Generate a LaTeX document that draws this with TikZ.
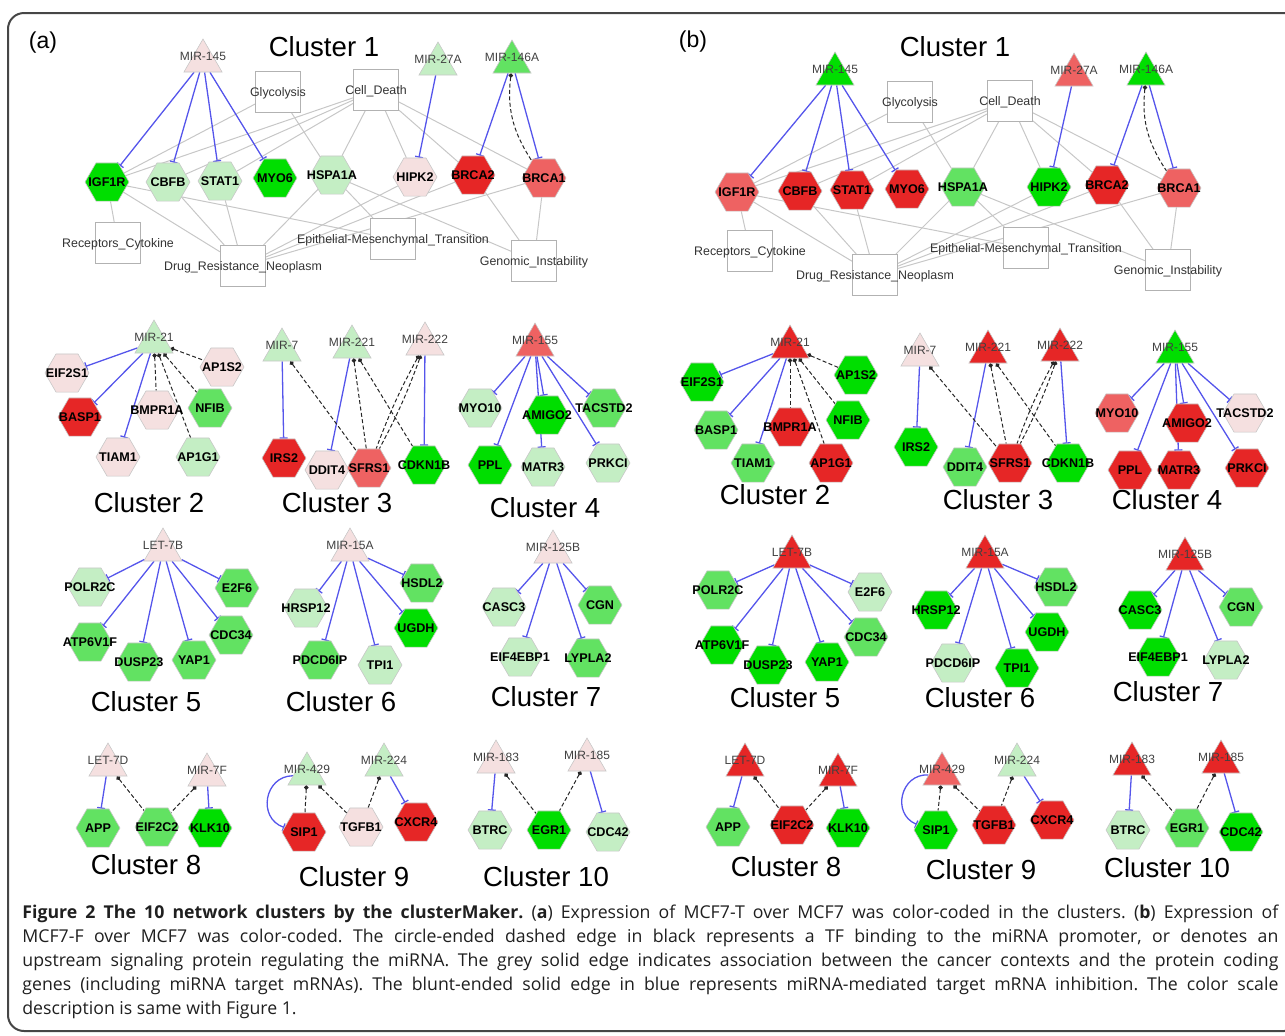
\documentclass[tikz,border=0pt]{standalone}
\usepackage{fontspec}
\setmainfont{Liberation Sans}
\newfontfamily\capfont{Open Sans}
\usetikzlibrary{shapes.geometric, arrows.meta}
\definecolor{GreenHi}{RGB}{0,222,0}
\definecolor{GreenMid}{RGB}{98,226,98}
\definecolor{GreenLo}{RGB}{196,238,196}
\definecolor{RedLo}{RGB}{245,224,224}
\definecolor{RedMid}{RGB}{238,98,98}
\definecolor{RedHi}{RGB}{230,38,38}
\definecolor{EdgeBlue}{RGB}{85,85,235}
\definecolor{Frame}{RGB}{70,70,70}
\newsavebox\nodetext
\tikzset{zw/.style={execute at begin node={\setbox\nodetext\hbox\bgroup}, execute at end node={\egroup\makebox[0pt]{\raisebox{#1}[0pt][0pt]{\usebox\nodetext}}}}, zw/.default=-2.2pt}
\pgfdeclarelayer{background}
\pgfsetlayers{background,main}

\begin{document}
\begin{tikzpicture}[x=0.5pt, y=-0.5pt]
	\tikzstyle{gene}=[regular polygon, regular polygon sides=6, minimum size=22pt, inner sep=0pt, draw=black!22, line width=0.3pt, font=\fontsize{6.3}{7}\selectfont\bfseries, zw];
	\tikzstyle{mir}=[regular polygon, regular polygon sides=3, minimum size=22pt, inner sep=0pt, draw=black!22, line width=0.3pt, font=\fontsize{6}{7}\selectfont, text=black!75, zw=0.2pt];
	\tikzstyle{ctx}=[rectangle, minimum width=22.5pt, minimum height=20.5pt, inner sep=0pt, draw=black!30, fill=white, line width=0.5pt, font=\fontsize{6.2}{7}\selectfont, text=black!80, zw];
	\tikzstyle{title}=[font=\fontsize{13.8}{16}\selectfont, inner sep=0pt];
	\tikzstyle{panel}=[font=\fontsize{11.5}{13}\selectfont, inner sep=0pt];
	\tikzstyle{inh}=[color=EdgeBlue, line width=0.65pt, -{Bar[width=4pt]}];
	\tikzstyle{tf}=[color=black!85, line width=0.5pt, dash pattern=on 2pt off 1.2pt, {Circle[length=2.2pt]}-];
	\tikzstyle{assoc}=[color=black!22, line width=0.5pt];
	\useasboundingbox (0,0) rectangle (1285,1035);
	\draw[Frame, line width=1pt, rounded corners=8pt] (8,13) rectangle (1300,1031);

	% panel (a)
	\node[panel] (lab-a) at (43,43) {(a)};
	\node[title] (t-a1) at (324,47) {Cluster 1};
	\node[mir, fill=RedLo] (a-m145) at (203,61) {MIR-145};
	\node[mir, fill=GreenLo] (a-m27a) at (438,64) {MIR-27A};
	\node[mir, fill=GreenMid] (a-m146a) at (512,62) {MIR-146A};
	\node[ctx] (a-gly) at (278,92) {Glycolysis};
	\node[ctx] (a-cdeath) at (376,90) {Cell\_Death};
	\node[gene, fill=GreenHi] (a-igf1r) at (107,182) {IGF1R};
	\node[gene, fill=GreenLo] (a-cbfb) at (168,182) {CBFB};
	\node[gene, fill=GreenLo] (a-stat1) at (220,181) {STAT1};
	\node[gene, fill=GreenHi] (a-myo6) at (275,178) {MYO6};
	\node[gene, fill=GreenLo] (a-hspa1a) at (332,175) {HSPA1A};
	\node[gene, fill=RedLo] (a-hipk2) at (415,177) {HIPK2};
	\node[gene, fill=RedHi] (a-brca2) at (473,175) {BRCA2};
	\node[gene, fill=RedMid] (a-brca1) at (544,178) {BRCA1};
	\node[ctx] (a-rec) at (118,243) {Receptors\_Cytokine};
	\node[ctx] (a-drug) at (243,266) {Drug\_Resistance\_Neoplasm};
	\node[ctx] (a-emt) at (393,239) {Epithelial-Mesenchymal\_Transition};
	\node[ctx] (a-gen) at (534,261) {Genomic\_Instability};

	\node[title] (t-a2) at (149,503) {Cluster 2};
	\node[mir, fill=GreenLo] (a-m21) at (154,342) {MIR-21};
	\node[gene, fill=RedLo] (a-eif2s1) at (67,373) {EIF2S1};
	\node[gene, fill=RedLo] (a-ap1s2) at (222,367) {AP1S2};
	\node[gene, fill=RedHi] (a-basp1) at (80,417) {BASP1};
	\node[gene, fill=RedLo] (a-bmpr1a) at (157,410) {BMPR1A};
	\node[gene, fill=GreenMid] (a-nfib) at (210,408) {NFIB};
	\node[gene, fill=RedLo] (a-tiam1) at (118,457) {TIAM1};
	\node[gene, fill=GreenLo] (a-ap1g1) at (198,457) {AP1G1};

	\node[title] (t-a3) at (337,503) {Cluster 3};
	\node[mir, fill=GreenLo] (a-m7) at (282,350) {MIR-7};
	\node[mir, fill=GreenLo] (a-m221) at (352,347) {MIR-221};
	\node[mir, fill=RedLo] (a-m222) at (425,344) {MIR-222};
	\node[gene, fill=RedHi] (a-irs2) at (284,458) {IRS2};
	\node[gene, fill=RedLo] (a-ddit4) at (327,470) {DDIT4};
	\node[gene, fill=RedMid] (a-sfrs1) at (369,468) {SFRS1};
	\node[gene, fill=GreenHi] (a-cdkn1b) at (424,465) {CDKN1B};

	\node[title] (t-a4) at (545,508) {Cluster 4};
	\node[mir, fill=RedMid] (a-m155) at (535,345) {MIR-155};
	\node[gene, fill=GreenLo] (a-myo10) at (480,408) {MYO10};
	\node[gene, fill=GreenHi] (a-amigo2) at (547,415) {AMIGO2};
	\node[gene, fill=GreenMid] (a-tacstd2) at (604,408) {TACSTD2};
	\node[gene, fill=GreenHi] (a-ppl) at (490,465) {PPL};
	\node[gene, fill=GreenLo] (a-matr3) at (543,467) {MATR3};
	\node[gene, fill=GreenLo] (a-prkci) at (608,463) {PRKCI};

	\node[title] (t-a5) at (146,702) {Cluster 5};
	\node[mir, fill=RedLo] (a-let7b) at (163,550) {LET-7B};
	\node[gene, fill=GreenLo] (a-polr2c) at (90,587) {POLR2C};
	\node[gene, fill=GreenMid] (a-e2f6) at (237,588) {E2F6};
	\node[gene, fill=GreenMid] (a-atp6v1f) at (90,642) {ATP6V1F};
	\node[gene, fill=GreenMid] (a-cdc34) at (231,635) {CDC34};
	\node[gene, fill=GreenMid] (a-dusp23) at (139,662) {DUSP23};
	\node[gene, fill=GreenMid] (a-yap1) at (194,660) {YAP1};

	\node[title] (t-a6) at (341,702) {Cluster 6};
	\node[mir, fill=RedLo] (a-m15a) at (350,550) {MIR-15A};
	\node[gene, fill=GreenMid] (a-hsdl2) at (422,583) {HSDL2};
	\node[gene, fill=GreenLo] (a-hrsp12) at (306,608) {HRSP12};
	\node[gene, fill=GreenHi] (a-ugdh) at (416,628) {UGDH};
	\node[gene, fill=GreenMid] (a-pdcd6ip) at (320,660) {PDCD6IP};
	\node[gene, fill=GreenLo] (a-tpi1) at (380,665) {TPI1};

	\node[title] (t-a7) at (546,697) {Cluster 7};
	\node[mir, fill=RedLo] (a-m125b) at (553,552) {MIR-125B};
	\node[gene, fill=GreenLo] (a-casc3) at (504,607) {CASC3};
	\node[gene, fill=GreenMid] (a-cgn) at (600,605) {CGN};
	\node[gene, fill=GreenLo] (a-eif4ebp1) at (520,657) {EIF4EBP1};
	\node[gene, fill=GreenMid] (a-lypla2) at (588,658) {LYPLA2};

	\node[title] (t-a8) at (146,865) {Cluster 8};
	\node[mir, fill=RedLo] (a-let7d) at (108,765) {LET-7D};
	\node[mir, fill=RedLo] (a-m7f) at (207,775) {MIR-7F};
	\node[gene, fill=GreenMid] (a-app) at (98,828) {APP};
	\node[gene, fill=GreenMid] (a-eif2c2) at (157,827) {EIF2C2};
	\node[gene, fill=GreenHi] (a-klk10) at (210,828) {KLK10};

	\node[title] (t-a9) at (354,877) {Cluster 9};
	\node[mir, fill=GreenLo] (a-m429) at (307,774) {MIR-429};
	\node[mir, fill=GreenLo] (a-m224) at (384,765) {MIR-224};
	\node[gene, fill=RedHi] (a-sip1) at (304,832) {SIP1};
	\node[gene, fill=RedLo] (a-tgfb1) at (361,827) {TGFB1};
	\node[gene, fill=RedHi] (a-cxcr4) at (416,822) {CXCR4};

	\node[title] (t-a10) at (546,877) {Cluster 10};
	\node[mir, fill=RedLo] (a-m183) at (496,762) {MIR-183};
	\node[mir, fill=RedLo] (a-m185) at (587,760) {MIR-185};
	\node[gene, fill=GreenLo] (a-btrc) at (490,830) {BTRC};
	\node[gene, fill=GreenHi] (a-egr1) at (549,830) {EGR1};
	\node[gene, fill=GreenLo] (a-cdc42) at (608,832) {CDC42};

	% panel (b)
	\node[panel] (lab-b) at (693,42) {(b)};
	\node[title] (t-b1) at (955,47) {Cluster 1};
	\node[mir, fill=GreenHi] (b-m145) at (835,74) {MIR-145};
	\node[mir, fill=RedMid] (b-m27a) at (1074,75) {MIR-27A};
	\node[mir, fill=GreenHi] (b-m146a) at (1146,74) {MIR-146A};
	\node[ctx] (b-gly) at (910,102) {Glycolysis};
	\node[ctx] (b-cdeath) at (1010,101) {Cell\_Death};
	\node[gene, fill=RedMid] (b-igf1r) at (737,192) {IGF1R};
	\node[gene, fill=RedHi] (b-cbfb) at (800,191) {CBFB};
	\node[gene, fill=RedHi] (b-stat1) at (852,190) {STAT1};
	\node[gene, fill=RedHi] (b-myo6) at (907,189) {MYO6};
	\node[gene, fill=GreenMid] (b-hspa1a) at (963,187) {HSPA1A};
	\node[gene, fill=GreenHi] (b-hipk2) at (1049,187) {HIPK2};
	\node[gene, fill=RedHi] (b-brca2) at (1107,185) {BRCA2};
	\node[gene, fill=RedMid] (b-brca1) at (1179,188) {BRCA1};
	\node[ctx] (b-rec) at (750,251) {Receptors\_Cytokine};
	\node[ctx] (b-drug) at (875,275) {Drug\_Resistance\_Neoplasm};
	\node[ctx] (b-emt) at (1026,248) {Epithelial-Mesenchymal\_Transition};
	\node[ctx] (b-gen) at (1168,270) {Genomic\_Instability};

	\node[title] (t-b2) at (775,495) {Cluster 2};
	\node[mir, fill=RedHi] (b-m21) at (790,347) {MIR-21};
	\node[gene, fill=GreenHi] (b-eif2s1) at (702,382) {EIF2S1};
	\node[gene, fill=GreenHi] (b-ap1s2) at (856,375) {AP1S2};
	\node[gene, fill=GreenMid] (b-basp1) at (716,430) {BASP1};
	\node[gene, fill=RedHi] (b-bmpr1a) at (790,427) {BMPR1A};
	\node[gene, fill=GreenHi] (b-nfib) at (848,420) {NFIB};
	\node[gene, fill=GreenMid] (b-tiam1) at (753,463) {TIAM1};
	\node[gene, fill=RedHi] (b-ap1g1) at (831,463) {AP1G1};

	\node[title] (t-b3) at (998,500) {Cluster 3};
	\node[mir, fill=RedLo] (b-m7) at (920,355) {MIR-7};
	\node[mir, fill=RedHi] (b-m221) at (988,352) {MIR-221};
	\node[mir, fill=RedHi] (b-m222) at (1060,350) {MIR-222};
	\node[gene, fill=GreenHi] (b-irs2) at (916,447) {IRS2};
	\node[gene, fill=GreenMid] (b-ddit4) at (965,467) {DDIT4};
	\node[gene, fill=RedHi] (b-sfrs1) at (1010,463) {SFRS1};
	\node[gene, fill=GreenHi] (b-cdkn1b) at (1068,463) {CDKN1B};

	\node[title] (t-b4) at (1167,500) {Cluster 4};
	\node[mir, fill=GreenHi] (b-m155) at (1175,352) {MIR-155};
	\node[gene, fill=RedMid] (b-myo10) at (1117,413) {MYO10};
	\node[gene, fill=RedHi] (b-amigo2) at (1187,423) {AMIGO2};
	\node[gene, fill=RedLo] (b-tacstd2) at (1245,413) {TACSTD2};
	\node[gene, fill=RedHi] (b-ppl) at (1130,470) {PPL};
	\node[gene, fill=RedHi] (b-matr3) at (1179,470) {MATR3};
	\node[gene, fill=RedHi] (b-prkci) at (1247,468) {PRKCI};

	\node[title] (t-b5) at (785,698) {Cluster 5};
	\node[mir, fill=RedHi] (b-let7b) at (792,557) {LET-7B};
	\node[gene, fill=GreenMid] (b-polr2c) at (718,590) {POLR2C};
	\node[gene, fill=GreenLo] (b-e2f6) at (870,592) {E2F6};
	\node[gene, fill=GreenHi] (b-atp6v1f) at (722,645) {ATP6V1F};
	\node[gene, fill=GreenMid] (b-cdc34) at (866,637) {CDC34};
	\node[gene, fill=GreenHi] (b-dusp23) at (768,665) {DUSP23};
	\node[gene, fill=GreenHi] (b-yap1) at (827,662) {YAP1};

	\node[title] (t-b6) at (980,698) {Cluster 6};
	\node[mir, fill=RedHi] (b-m15a) at (985,557) {MIR-15A};
	\node[gene, fill=GreenMid] (b-hsdl2) at (1056,587) {HSDL2};
	\node[gene, fill=GreenHi] (b-hrsp12) at (936,610) {HRSP12};
	\node[gene, fill=GreenHi] (b-ugdh) at (1047,632) {UGDH};
	\node[gene, fill=GreenLo] (b-pdcd6ip) at (953,663) {PDCD6IP};
	\node[gene, fill=GreenHi] (b-tpi1) at (1017,668) {TPI1};

	\node[title] (t-b7) at (1168,692) {Cluster 7};
	\node[mir, fill=RedHi] (b-m125b) at (1185,559) {MIR-125B};
	\node[gene, fill=GreenHi] (b-casc3) at (1140,610) {CASC3};
	\node[gene, fill=GreenMid] (b-cgn) at (1241,607) {CGN};
	\node[gene, fill=GreenHi] (b-eif4ebp1) at (1158,657) {EIF4EBP1};
	\node[gene, fill=GreenLo] (b-lypla2) at (1226,660) {LYPLA2};

	\node[title] (t-b8) at (786,867) {Cluster 8};
	\node[mir, fill=RedHi] (b-let7d) at (745,765) {LET-7D};
	\node[mir, fill=RedHi] (b-m7f) at (838,775) {MIR-7F};
	\node[gene, fill=GreenMid] (b-app) at (728,827) {APP};
	\node[gene, fill=RedHi] (b-eif2c2) at (792,825) {EIF2C2};
	\node[gene, fill=GreenHi] (b-klk10) at (848,828) {KLK10};

	\node[title] (t-b9) at (981,870) {Cluster 9};
	\node[mir, fill=RedMid] (b-m429) at (942,774) {MIR-429};
	\node[mir, fill=GreenLo] (b-m224) at (1017,765) {MIR-224};
	\node[gene, fill=GreenHi] (b-sip1) at (936,830) {SIP1};
	\node[gene, fill=RedHi] (b-tgfb1) at (994,825) {TGFB1};
	\node[gene, fill=RedHi] (b-cxcr4) at (1052,820) {CXCR4};

	\node[title] (t-b10) at (1167,868) {Cluster 10};
	\node[mir, fill=RedHi] (b-m183) at (1132,764) {MIR-183};
	\node[mir, fill=RedHi] (b-m185) at (1221,762) {MIR-185};
	\node[gene, fill=GreenLo] (b-btrc) at (1128,830) {BTRC};
	\node[gene, fill=GreenMid] (b-egr1) at (1187,828) {EGR1};
	\node[gene, fill=GreenHi] (b-cdc42) at (1241,832) {CDC42};

	\begin{pgfonlayer}{background}
	% edges (a)
	\path[assoc] (a-gly) edge (a-igf1r) edge (a-hspa1a);
	\path[assoc] (a-cdeath) edge (a-igf1r) edge (a-cbfb) edge (a-stat1) edge (a-hspa1a) edge (a-hipk2) edge (a-brca2) edge (a-brca1);
	\path[assoc] (a-igf1r) edge (a-rec) edge (a-drug) edge (a-emt);
	\path[assoc] (a-drug) edge (a-cbfb) edge (a-stat1) edge (a-hspa1a) edge (a-hipk2) edge (a-brca2) edge (a-brca1);
	\path[assoc] (a-hspa1a) edge (a-emt) edge (a-gen);
	\path[assoc] (a-gen) edge (a-brca2) edge (a-brca1);
	\path[inh] (a-m145) edge (a-igf1r) edge (a-cbfb) edge (a-stat1) edge (a-myo6);
	\path[inh] (a-m27a) edge (a-hipk2);
	\path[inh] (a-m146a) edge (a-brca2) edge (a-brca1);
	\path[tf] (a-m146a) edge[bend right=20] (a-brca1);
	\path[inh] (a-m21) edge (a-eif2s1) edge (a-basp1) edge (a-tiam1);
	\path[tf] (a-m21) edge (a-bmpr1a) edge (a-ap1g1) edge (a-nfib) edge (a-ap1s2);
	\path[inh] (a-m7) edge (a-irs2);
	\path[inh] (a-m221) edge (a-ddit4);
	\path[inh] (a-m222) edge (a-cdkn1b);
	\path[tf] (a-m7) edge (a-sfrs1);
	\path[tf] (a-m221) edge (a-sfrs1) edge (a-cdkn1b);
	\path[tf] (a-m222) edge[bend left=4] (a-sfrs1) edge[bend right=4] (a-sfrs1);
	\path[inh] (a-m155) edge (a-myo10) edge (a-ppl) edge (a-amigo2) edge (a-matr3) edge (a-prkci) edge (a-tacstd2);
	\path[inh] (a-let7b) edge (a-polr2c) edge (a-atp6v1f) edge (a-dusp23) edge (a-yap1) edge (a-cdc34) edge (a-e2f6);
	\path[inh] (a-m15a) edge (a-hrsp12) edge (a-pdcd6ip) edge (a-tpi1) edge (a-ugdh) edge (a-hsdl2);
	\path[inh] (a-m125b) edge (a-casc3) edge (a-eif4ebp1) edge (a-lypla2) edge (a-cgn);
	\path[inh] (a-let7d) edge (a-app);
	\path[inh] (a-m7f) edge (a-klk10);
	\path[tf] (a-let7d) edge (a-eif2c2);
	\path[tf] (a-m7f) edge (a-eif2c2);
	\path[inh] (a-m429) edge[bend right=80, looseness=1.4] (a-sip1);
	\path[inh] (a-m224) edge (a-cxcr4);
	\path[tf] (a-m429) edge (a-sip1) edge (a-tgfb1);
	\path[tf] (a-m224) edge (a-tgfb1);
	\path[inh] (a-m183) edge (a-btrc);
	\path[inh] (a-m185) edge (a-cdc42);
	\path[tf] (a-m183) edge (a-egr1);
	\path[tf] (a-m185) edge (a-egr1);
	% edges (b)
	\path[assoc] (b-gly) edge (b-igf1r) edge (b-hspa1a);
	\path[assoc] (b-cdeath) edge (b-igf1r) edge (b-cbfb) edge (b-stat1) edge (b-hspa1a) edge (b-hipk2) edge (b-brca2) edge (b-brca1);
	\path[assoc] (b-igf1r) edge (b-rec) edge (b-drug) edge (b-emt);
	\path[assoc] (b-drug) edge (b-cbfb) edge (b-stat1) edge (b-hspa1a) edge (b-hipk2) edge (b-brca2) edge (b-brca1);
	\path[assoc] (b-hspa1a) edge (b-emt) edge (b-gen);
	\path[assoc] (b-gen) edge (b-brca2) edge (b-brca1);
	\path[inh] (b-m145) edge (b-igf1r) edge (b-cbfb) edge (b-stat1) edge (b-myo6);
	\path[inh] (b-m27a) edge (b-hipk2);
	\path[inh] (b-m146a) edge (b-brca2) edge (b-brca1);
	\path[tf] (b-m146a) edge[bend right=20] (b-brca1);
	\path[inh] (b-m21) edge (b-eif2s1) edge (b-basp1) edge (b-tiam1);
	\path[tf] (b-m21) edge (b-bmpr1a) edge (b-ap1g1) edge (b-nfib) edge (b-ap1s2);
	\path[inh] (b-m7) edge (b-irs2);
	\path[inh] (b-m221) edge (b-ddit4);
	\path[inh] (b-m222) edge (b-cdkn1b);
	\path[tf] (b-m7) edge (b-sfrs1);
	\path[tf] (b-m221) edge (b-sfrs1) edge (b-cdkn1b);
	\path[tf] (b-m222) edge[bend left=4] (b-sfrs1) edge[bend right=4] (b-sfrs1);
	\path[inh] (b-m155) edge (b-myo10) edge (b-ppl) edge (b-amigo2) edge (b-matr3) edge (b-prkci) edge (b-tacstd2);
	\path[inh] (b-let7b) edge (b-polr2c) edge (b-atp6v1f) edge (b-dusp23) edge (b-yap1) edge (b-cdc34) edge (b-e2f6);
	\path[inh] (b-m15a) edge (b-hrsp12) edge (b-pdcd6ip) edge (b-tpi1) edge (b-ugdh) edge (b-hsdl2);
	\path[inh] (b-m125b) edge (b-casc3) edge (b-eif4ebp1) edge (b-lypla2) edge (b-cgn);
	\path[inh] (b-let7d) edge (b-app);
	\path[inh] (b-m7f) edge (b-klk10);
	\path[tf] (b-let7d) edge (b-eif2c2);
	\path[tf] (b-m7f) edge (b-eif2c2);
	\path[inh] (b-m429) edge[bend right=80, looseness=1.4] (b-sip1);
	\path[inh] (b-m224) edge (b-cxcr4);
	\path[tf] (b-m429) edge (b-sip1) edge (b-tgfb1);
	\path[tf] (b-m224) edge (b-tgfb1);
	\path[inh] (b-m183) edge (b-btrc);
	\path[inh] (b-m185) edge (b-cdc42);
	\path[tf] (b-m183) edge (b-egr1);
	\path[tf] (b-m185) edge (b-egr1);
	\end{pgfonlayer}

	\node[anchor=north west, inner sep=0pt, text width=628pt, align=justify, text=black!88, font=\capfont\fontsize{8.85}{12}\selectfont] (cap) at (22,905) {\frenchspacing\hyphenpenalty10000 \exhyphenpenalty10000 \textbf{Figure 2 The 10 network clusters by the clusterMaker.} (\textbf{a}) Expression of MCF7-T over MCF7 was color-coded in the clusters. (\textbf{b}) Expression of\linebreak MCF7-F over MCF7 was color-coded. The circle-ended dashed edge in black represents a TF binding to the miRNA promoter, or denotes an\linebreak upstream signaling protein regulating the miRNA. The grey solid edge indicates association between the cancer contexts and the protein coding\linebreak genes (including miRNA target mRNAs). The blunt-ended solid edge in blue represents miRNA-mediated target mRNA inhibition. The color scale\linebreak description is same with Figure 1.};
\end{tikzpicture}
\end{document}
